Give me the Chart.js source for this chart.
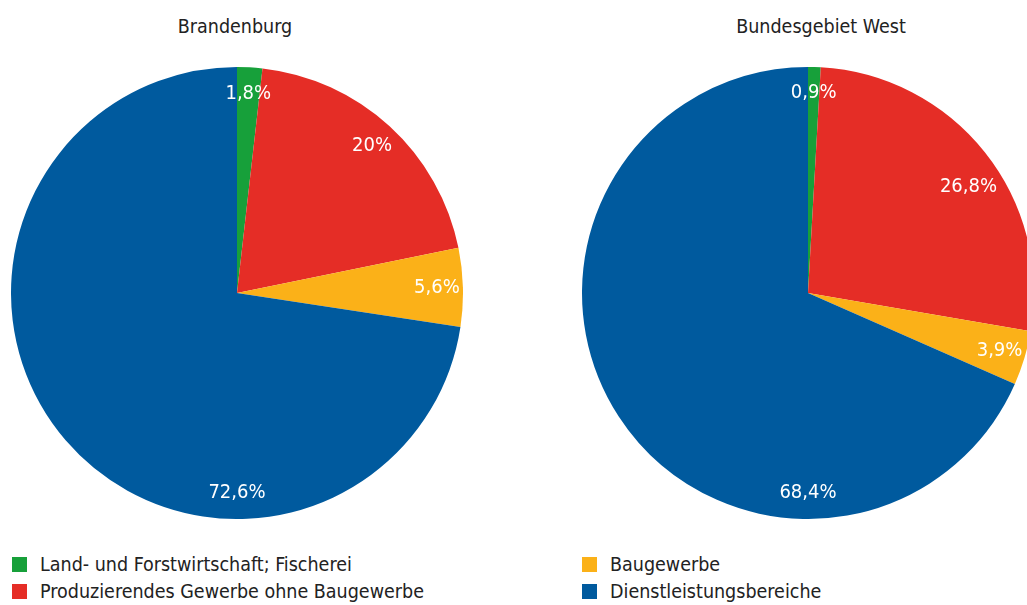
<!DOCTYPE html>
<html>
<head>
<meta charset="utf-8">
<script src="https://cdn.jsdelivr.net/npm/chart.js@4/dist/chart.umd.min.js"></script>
<style>
  html, body { margin: 0; padding: 0; background: #fff; overflow: hidden; }
  body { width: 1027px; height: 605px; position: relative; font-family: "DejaVu Sans Condensed", "Liberation Sans", sans-serif; color: #222; }
  canvas { position: absolute; }
  .title { position: absolute; top: 15px; font-size: 19.5px; text-align: center; width: 300px; }
  .legend { position: absolute; font-size: 19.5px; }
  .legend div { height: 27px; line-height: 27px; white-space: nowrap; }
  .legend span.box { display: inline-block; width: 15px; height: 15px; margin-right: 13px; vertical-align: -1px; }
</style>
</head>
<body>
<div class="title" id="t1" style="left:85px"></div>
<div class="title" id="t2" style="left:671px"></div>
<canvas id="chart1" width="452" height="452" style="left:11px;top:67px"></canvas>
<canvas id="chart2" width="452" height="452" style="left:582px;top:67px"></canvas>
<div class="legend" id="leg1" style="left:12px;top:551px"></div>
<div class="legend" id="leg2" style="left:582px;top:551px"></div>
<script>
const categories = [
  "Land- und Forstwirtschaft; Fischerei",
  "Produzierendes Gewerbe ohne Baugewerbe",
  "Baugewerbe",
  "Dienstleistungsbereiche",
];
const titles = ["Brandenburg", "Bundesgebiet West"];
const brandenburg = [1.8, 20, 5.6, 72.6];
const bundesgebietWest = [0.9, 26.8, 3.9, 68.4];
const colors = ["#17a03a", "#e52d26", "#fbb118", "#005a9e"];

const sliceLabels = {
  id: "sliceLabels",
  afterDatasetsDraw(chart, args, opts) {
    const ctx = chart.ctx;
    const meta = chart.getDatasetMeta(0);
    const data = chart.data.datasets[0].data;
    ctx.save();
    ctx.fillStyle = "#fff";
    ctx.font = "20px 'DejaVu Sans Condensed', 'Liberation Sans', sans-serif";
    ctx.textAlign = "center";
    ctx.textBaseline = "middle";
    meta.data.forEach((arc, i) => {
      const p = arc.getProps(["x", "y", "startAngle", "endAngle", "outerRadius"], true);
      let a = (p.startAngle + p.endAngle) / 2;
      if (data[i] > 50) a = Math.PI / 2;
      const r = p.outerRadius * 0.885;
      const n = (opts.nudge && opts.nudge[i]) || [0, 0];
      const tx = p.x + Math.cos(a) * r + n[0];
      const ty = p.y + Math.sin(a) * r + n[1];
      ctx.fillText(String(data[i]).replace(".", ",") + "%", tx, ty);
    });
    ctx.restore();
  },
};

function makePie(id, values, nudge) {
  return new Chart(document.getElementById(id).getContext("2d"), {
    type: "pie",
    data: {
      labels: categories,
      datasets: [{ data: values, backgroundColor: colors, borderWidth: 0 }],
    },
    options: {
      responsive: false,
      animation: false,
      devicePixelRatio: 1,
      layout: { padding: 0 },
      plugins: {
        legend: { display: false },
        tooltip: { enabled: false },
        sliceLabels: { nudge: nudge },
      },
    },
    plugins: [sliceLabels],
  });
}

const chart1 = makePie("chart1", brandenburg, {});
const chart2 = makePie("chart2", bundesgebietWest, { 1: [4, 18] });

document.getElementById("t1").textContent = titles[0];
document.getElementById("t2").textContent = titles[1];

function legendRow(i) {
  const d = document.createElement("div");
  const b = document.createElement("span");
  b.className = "box";
  b.style.background = colors[i];
  d.appendChild(b);
  d.appendChild(document.createTextNode(categories[i]));
  return d;
}
const leg1 = document.getElementById("leg1");
const leg2 = document.getElementById("leg2");
leg1.appendChild(legendRow(0));
leg1.appendChild(legendRow(1));
leg2.appendChild(legendRow(2));
leg2.appendChild(legendRow(3));
</script>
</body>
</html>
